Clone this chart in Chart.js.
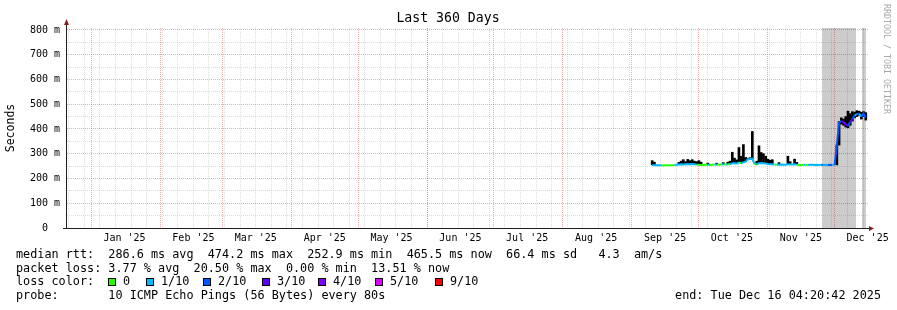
<!DOCTYPE html>
<html>
<head>
<meta charset="utf-8">
<script src="https://cdn.jsdelivr.net/npm/chart.js@4.4.1/dist/chart.umd.min.js"></script>
<style>
  body { margin: 0; background: #fff; }
  #wrap { width: 897px; height: 310px; }
</style>
</head>
<body>
<div id="wrap"><canvas id="myChart" width="897" height="310"></canvas></div>
<script>
// Zeitachse in Tagen seit Grafikbeginn (360 Tage vor Tue Dec 16 04:20:42 2025)
const DAY = 86400000;
const graphStart = Date.UTC(2024, 11, 21, 4, 20, 42);
const graphDays = 360;
const yMax = 808;

const monthLabels = ["Jan '25", "Feb '25", "Mar '25", "Apr '25", "May '25", "Jun '25",
                     "Jul '25", "Aug '25", "Sep '25", "Oct '25", "Nov '25", "Dec '25"];
const yTickValues = [0, 50, 100, 150, 200, 250, 300, 350, 400, 450, 500, 550, 600, 650, 700, 750, 800];

// Messwerte (Tag, Median in ms, Verlust-Stufe, Rauch unten/oben in ms)
const days = [
  263, 264, 265, 266, 267, 268, 269, 270, 271, 272,
  273, 274, 275, 276, 277, 278, 279, 280, 281, 282,
  283, 284, 285, 286, 287, 288, 289, 290, 291, 292,
  293, 294, 295, 296, 297, 298, 299, 300, 301, 302,
  303, 304, 305, 306, 307, 308, 309, 310, 311, 312,
  313, 314, 315, 316, 317, 318, 319, 320, 321, 322,
  323, 324, 325, 326, 327, 328, 329, 330, 331, 332,
  333, 334, 335, 336, 337, 338, 339, 340, 341, 342,
  343, 344, 345, 346, 347, 348, 349, 350, 351, 352,
  353, 354, 355, 356, 357, 358, 359
];
const medianRtt = [
  255, 254, 254, 254, 254, 253, 254, 254, 254, 254,
  255, 256, 257, 258, 257, 258, 259, 258, 259, 258,
  256, 256, 255, 255, 256, 256, 255, 256, 256, 257,
  256, 257, 258, 257, 258, 258, 262, 262, 261, 265,
  262, 265, 268, 278, 279, 280, 258, 257, 262, 263,
  262, 261, 259, 258, 258, 256, 256, 256, 257, 256,
  256, 258, 257, 257, 258, 256, 255, 255, 256, 255,
  255, 256, 256, 255, 256, 255, 256, 255, 256, 255,
  256, 255, 255, 335, 425, 432, 428, 418, 412, 428,
  440, 455, 460, 462, 450, 462, 446
];
const lossLevel = [
  1, 1, 1, 1, 0, 0, 0, 0, 0, 0,
  1, 1, 1, 1, 1, 1, 1, 1, 1, 1,
  0, 0, 0, 0, 0, 1, 0, 0, 1, 0,
  0, 1, 0, 1, 0, 1, 1, 1, 1, 0,
  1, 1, 1, 1, 1, 1, 0, 1, 1, 1,
  1, 1, 1, 1, 1, 0, 1, 1, 1, 1,
  1, 1, 1, 1, 1, 0, 0, 0, 1, 0,
  1, 1, 1, 1, 1, 1, 2, 1, 1, 2,
  2, 1, 2, 2, 2, 3, 4, 3, 2, 3,
  2, 1, 2, 1, 2, 2, 2
];
const smokeLow = [
  null, null, null, null, null, null, null, null, null, null,
  null, null, null, null, null, null, null, null, null, null,
  null, null, null, null, null, null, null, null, null, null,
  null, null, null, null, null, null, null, null, null, null,
  null, null, null, null, null, null, null, null, null, null,
  null, null, null, null, null, null, null, null, null, null,
  null, null, null, null, null, null, null, null, null, null,
  null, null, null, null, null, null, null, null, null, null,
  null, null, null, 255, 335, 420, 415, 408, 405, 415,
  432, 445, 450, 455, 440, 450, 436
];
const smokeHigh = [
  272, 266, null, null, null, null, null, null, null, null,
  null, null, 265, 270, 276, 268, 277, 272, 276, 270,
  268, 272, 266, null, null, 262, null, null, null, 262,
  null, null, 264, null, 266, 270, 306, 282, 275, 325,
  290, 337, 285, 282, 284, 390, null, 270, 332, 305,
  300, 290, 278, 274, 276, null, null, 264, null, null,
  null, 290, 268, null, 278, 265, null, null, null, null,
  null, null, null, null, null, null, null, null, null, null,
  null, null, null, null, 430, 445, 440, 450, 472, 462,
  470, 468, 474, 472, 468, 470, 466
];

// Bereiche ohne Daten (grau hinterlegt)
const unknownFrom = [339.3, 357.3];
const unknownTo = [354.6, 359.1];

const lossColors = ['#26ff00', '#00b8ff', '#0059ff', '#5e00ff', '#7e00ff', '#dd00ff', '#ff0000'];
const lossLabels = ['0', '1/10', '2/10', '3/10', '4/10', '5/10', '9/10'];
const legendLines = [
  'median rtt:  286.6 ms avg  474.2 ms max  252.9 ms min  465.5 ms now  66.4 ms sd   4.3  am/s',
  'packet loss: 3.77 % avg  20.50 % max  0.00 % min  13.51 % now',
  'loss color:',
  'probe:       10 ICMP Echo Pings (56 Bytes) every 80s'
];
const endText = 'end: Tue Dec 16 04:20:42 2025';

const FONT = 'DejaVu Sans Mono';
const gridColor = 'rgba(150, 150, 150, 0.32)';
const mgridColor = 'rgba(255, 40, 40, 0.42)';

// Gitter: Wochen (Sonntag), Monatsanfang, Monatsbeschriftung in der Monatsmitte
const toDay = t => (t - graphStart) / DAY;
const xTicks = [];
for (let t = Date.UTC(2024, 11, 22); toDay(t) < graphDays; t += 7 * DAY) {
  xTicks.push({ value: toDay(t), kind: 'week' });
}
monthLabels.forEach((lbl, m) => {
  xTicks.push({ value: toDay(Date.UTC(2025, m, 1)), kind: 'month' });
  xTicks.push({ value: toDay(Date.UTC(2025, m, 16)), kind: 'label', text: lbl });
});
xTicks.sort((a, b) => a.value - b.value);

const medianData = days.map((d, i) => ({ x: d, y: medianRtt[i] }));
const smokeData = days.map((d, i) => {
  if (smokeLow[i] === null && smokeHigh[i] === null) return { x: d, y: null };
  const lo = smokeLow[i] === null ? medianRtt[i] : smokeLow[i];
  const hi = smokeHigh[i] === null ? medianRtt[i] : smokeHigh[i];
  return { x: d, y: [lo, hi] };
});
const unknownSets = unknownFrom.map((from, i) => ({
  type: 'line',
  data: [{ x: from, y: yMax }, { x: unknownTo[i], y: yMax }],
  borderWidth: 0,
  pointRadius: 0,
  fill: 'origin',
  backgroundColor: 'rgba(0, 0, 0, 0.2)',
  order: 2
}));

// Texte, Achsen und Pfeile wie bei RRDtool
const rrdText = {
  id: 'rrdText',
  afterDraw(chart) {
    const ctx = chart.ctx;
    const area = chart.chartArea;
    ctx.save();

    // Achsen
    ctx.strokeStyle = '#1f1f1f';
    ctx.lineWidth = 1;
    ctx.beginPath();
    ctx.moveTo(63, area.bottom + 0.5);
    ctx.lineTo(area.right + 1, area.bottom + 0.5);
    ctx.moveTo(area.left - 0.5, area.bottom + 0.5);
    ctx.lineTo(area.left - 0.5, area.top - 4);
    ctx.stroke();
    ctx.fillStyle = '#801f1f';
    ctx.beginPath();
    ctx.moveTo(area.left - 3, area.top - 3);
    ctx.lineTo(area.left + 2, area.top - 3);
    ctx.lineTo(area.left - 0.5, area.top - 9);
    ctx.closePath();
    ctx.fill();
    ctx.beginPath();
    ctx.moveTo(area.right + 1, area.bottom - 2);
    ctx.lineTo(area.right + 1, area.bottom + 3);
    ctx.lineTo(area.right + 6, area.bottom + 0.5);
    ctx.closePath();
    ctx.fill();

    // Titel
    ctx.fillStyle = '#000';
    ctx.textBaseline = 'middle';
    ctx.textAlign = 'center';
    ctx.font = '13.2px "' + FONT + '"';
    ctx.fillText('Last 360 Days', 448, 19);

    // Achsentitel
    ctx.save();
    ctx.translate(11, 128);
    ctx.rotate(-Math.PI / 2);
    ctx.font = '11.5px "' + FONT + '"';
    ctx.fillText('Seconds', 0, 0);
    ctx.restore();

    // Wasserzeichen
    ctx.save();
    ctx.translate(886, 4);
    ctx.rotate(Math.PI / 2);
    ctx.textAlign = 'left';
    ctx.fillStyle = '#a8a8a8';
    ctx.font = '8.3px "' + FONT + '"';
    ctx.fillText('RRDTOOL / TOBI OETIKER', 0, 0);
    ctx.restore();

    // Legende
    ctx.textAlign = 'left';
    ctx.font = '11.8px "' + FONT + '"';
    const lineY = [255, 268.5, 282.3, 296];
    legendLines.forEach((txt, i) => ctx.fillText(txt, 16, lineY[i]));
    const boxX = [108, 146, 203, 262, 318, 375, 435];
    lossLabels.forEach((lbl, i) => {
      ctx.fillStyle = lossColors[i];
      ctx.fillRect(boxX[i], 278, 8, 8);
      ctx.strokeStyle = '#000';
      ctx.strokeRect(boxX[i] + 0.5, 278.5, 7, 7);
      ctx.fillStyle = '#000';
      ctx.fillText(lbl, boxX[i] + 15, lineY[2]);
    });
    ctx.textAlign = 'right';
    ctx.fillText(endText, 881, lineY[3]);
    ctx.restore();
  }
};

Chart.defaults.font.family = FONT;

const ctx = document.getElementById('myChart').getContext('2d');
const myChart = new Chart(ctx, {
  type: 'line',
  data: {
    datasets: [
      {
        type: 'line',
        data: medianData,
        borderWidth: 2,
        pointRadius: 0,
        tension: 0,
        fill: false,
        borderColor: lossColors[1],
        segment: { borderColor: c => lossColors[lossLevel[c.p0DataIndex]] },
        order: 0
      },
      {
        type: 'bar',
        data: smokeData,
        backgroundColor: '#000',
        barThickness: 2,
        grouped: false,
        order: 1
      },
      ...unknownSets
    ]
  },
  options: {
    responsive: false,
    devicePixelRatio: 1,
    animation: false,
    events: [],
    layout: { padding: { top: 28, right: 29, left: 0, bottom: 0 } },
    plugins: { legend: { display: false }, tooltip: { enabled: false } },
    scales: {
      x: {
        type: 'linear',
        min: 0,
        max: graphDays,
        offset: false,
        afterBuildTicks: s => { s.ticks = xTicks.map(t => ({ ...t })); },
        afterFit: s => { s.height = 82; },
        grid: {
          offset: false,
          drawTicks: false,
          color: c => c.tick && c.tick.kind === 'month' ? mgridColor
                    : c.tick && c.tick.kind === 'week' ? gridColor : 'rgba(0,0,0,0)'
        },
        border: { display: false, dash: [1, 1] },
        ticks: {
          autoSkip: false,
          maxRotation: 0,
          padding: 4,
          color: '#000',
          font: { family: FONT, size: 10 },
          callback: (v, i, ticks) => ticks[i].kind === 'label' ? ticks[i].text : ''
        }
      },
      y: {
        min: 0,
        max: yMax,
        afterBuildTicks: s => { s.ticks = yTickValues.map(v => ({ value: v })); },
        afterFit: s => { s.width = 67; },
        grid: {
          drawTicks: false,
          color: c => c.tick && c.tick.value % 100 === 0 ? mgridColor : gridColor
        },
        border: { display: false, dash: [1, 1] },
        ticks: {
          autoSkip: false,
          padding: 7,
          color: '#000',
          font: { family: FONT, size: 10 },
          callback: v => v % 100 ? '' : (v === 0 ? '0  ' : v + ' m')
        }
      }
    }
  },
  plugins: [rrdText]
});
</script>
</body>
</html>
